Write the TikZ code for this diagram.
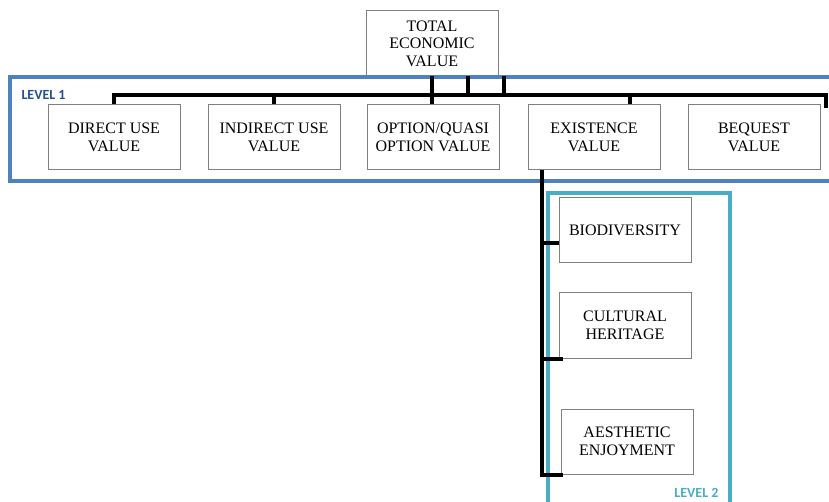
\documentclass[tikz,border=0pt]{standalone}
\usepackage{fontspec}
\setmainfont{Liberation Serif}
\newfontfamily\levelfont{Carlito}
\usetikzlibrary{positioning,calc}
\definecolor{levelone}{RGB}{79,129,189}
\definecolor{levelonetext}{RGB}{38,80,145}
\definecolor{leveltwo}{RGB}{75,172,198}

\begin{document}
\begin{tikzpicture}[x=1pt, y=-1pt,
				valuebox/.style={rectangle, draw=black!50, line width=1pt, fill=white, minimum width=132pt, minimum height=65pt, align=center, inner sep=2pt, font=\fontsize{16}{17.5}\selectfont},
				levelframe/.style={line width=4pt},
				link/.style={line width=4pt, black},
				levellabel/.style={font=\levelfont\bfseries\fontsize{14}{15}\selectfont}
			]
			\useasboundingbox (0,0) rectangle (829,502);
			\node[valuebox] (tev) at (432,43.5) {TOTAL\\ECONOMIC\\VALUE};
			\node[valuebox] (direct) at (114,137.5) {DIRECT USE\\VALUE};
			\node[valuebox] (indirect) [right=27pt of direct] {INDIRECT USE\\VALUE};
			\node[valuebox] (optionq) [right=26pt of indirect] {OPTION/QUASI\\OPTION VALUE};
			\node[valuebox] (existence) [right=28pt of optionq] {EXISTENCE\\VALUE};
			\node[valuebox] (bequest) [right=27pt of existence] {BEQUEST\\VALUE};
			\node[valuebox] (biodiv) at (625,230.5) {BIODIVERSITY};
			\node[valuebox] (heritage) [below=29pt of biodiv] {CULTURAL\\HERITAGE};
			\node[valuebox] (aesthetic) [below=50pt of heritage, xshift=2pt] {AESTHETIC\\ENJOYMENT};
			\draw[levelframe, levelone] (10,77) rectangle (845,181);
			\draw[levelframe, leveltwo] (548,193) rectangle (730,520);
			\node[levellabel, text=levelonetext, anchor=west] (levelonelabel) at (18,95) {LEVEL 1};
			\node[levellabel, text=leveltwo, anchor=east] (leveltwolabel) at (722,493) {LEVEL 2};
			\coordinate (bus) at (0,95);
			\coordinate (busend) at (826,95);
			\coordinate (busdrop) at (826,108);
			\coordinate (spine) at ([xshift=-52pt]existence.south);
			\begin{scope}[link]
			\draw (direct.north) -- (direct.north |- bus) -- (busend) -- (busdrop);
			\draw (indirect.north) -- (indirect.north |- bus);
			\draw (tev.south) -- (tev.south |- optionq.north);
			\draw ([xshift=36pt]tev.south) -- ([xshift=36pt]tev.south |- bus);
			\draw ([xshift=72pt]tev.south) -- ([xshift=72pt]tev.south |- bus);
			\draw ([xshift=36pt]existence.north) -- ([xshift=36pt]existence.north |- bus);
			\draw (spine) -- (spine |- aesthetic.south west) -- ([xshift=2pt]aesthetic.south west);
			\draw ([yshift=-13pt]spine |- biodiv.west) -- ([yshift=-13pt]biodiv.west);
			\draw (spine |- heritage.south west) -- ([xshift=4pt]heritage.south west);
			\end{scope}
			\end{tikzpicture}
\end{document}
